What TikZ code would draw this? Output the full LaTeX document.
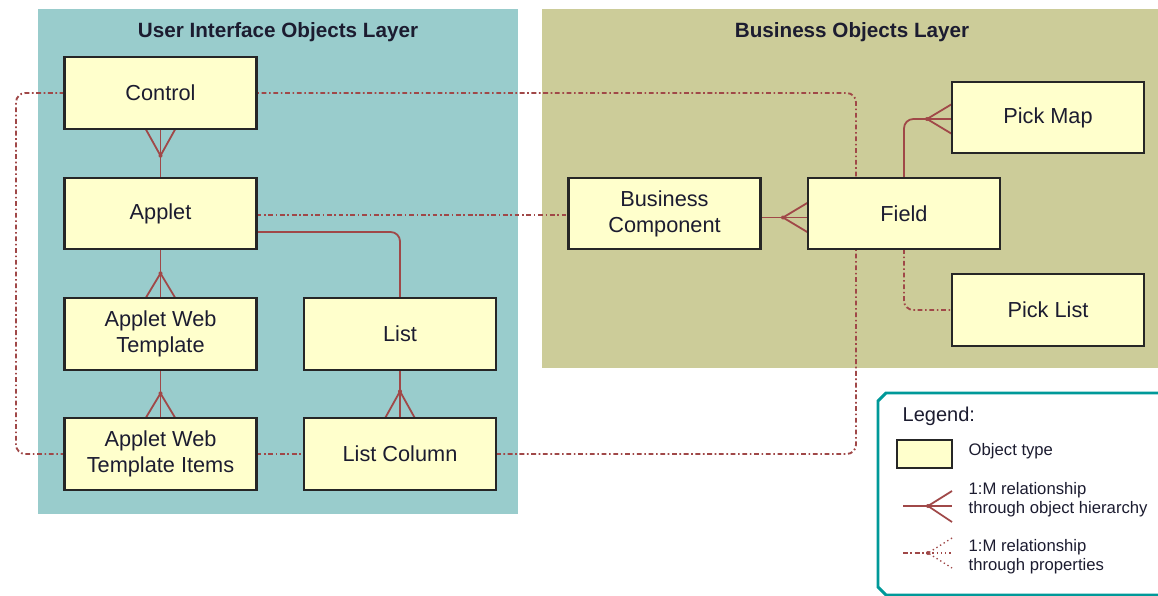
\documentclass[tikz,border=0pt]{standalone}
\usepackage{fontspec}
\setmainfont{Liberation Sans}
\usetikzlibrary{calc}
\pgfdeclarelayer{bg}
\pgfdeclarelayer{lines}
\pgfsetlayers{bg,lines,main}
\definecolor{uibg}{HTML}{99CCCC}
\definecolor{bobg}{HTML}{CCCC99}
\definecolor{boxfill}{HTML}{FFFFCC}
\definecolor{relc}{HTML}{A04848}
\definecolor{legframe}{HTML}{009999}
\definecolor{txt}{HTML}{1C1C30}
\tikzset{
 obj/.style={draw=black!85, line width=1.6pt, fill=boxfill, minimum width=144pt, minimum height=53.5pt, inner sep=0pt, outer sep=0pt, align=center, font=\fontsize{16.3}{19.5}\selectfont, text=txt},
 hier/.style={draw=relc, line width=1.35pt},
 prop/.style={draw=relc, line width=1.4pt, dash pattern=on 3.6pt off 2pt on 1.2pt off 2pt},
 dotp/.style={draw=relc, line width=1pt, dash pattern=on 1pt off 2.2pt},
 layertitle/.style={font=\bfseries\fontsize{15.5}{18}\selectfont, text=txt},
 legtext/.style={anchor=west, align=left, font=\fontsize{12.5}{14.3}\selectfont, text=txt},
 knot/.style={fill=relc, circle, inner sep=0pt, minimum size=3pt},
}
\begin{document}
\begin{tikzpicture}[x=0.75pt,y=-0.75pt]
\useasboundingbox (0,0) rectangle (1158,596);
\clip (0,0) rectangle (1158,596);
\begin{pgfonlayer}{bg}
\fill[white] (0,0) rectangle (1158,596);
\fill[uibg] (38,9) rectangle (518,514);
\fill[bobg] (542,9) rectangle (1160,368);
\end{pgfonlayer}
\node[layertitle] (uititle) at (278,32) {User Interface Objects Layer};
\node[layertitle] (botitle) at (852,32) {Business Objects Layer};

% objects
\node[obj] (ctrl) at (160.5,93) {Control};
\node[obj] (app) at (160.5,213.5) {Applet};
\node[obj] (awt) at (160.5,334) {Applet Web\\Template};
\node[obj] (awti) at (160.5,454) {Applet Web\\Template Items};
\node[obj] (list) at (400,334) {List};
\node[obj] (lc) at (400,454) {List Column};
\node[obj] (bc) at (664.5,213.5) {Business\\Component};
\node[obj] (field) at (904,213.5) {Field};
\node[obj] (pm) at (1048,117.5) {Pick Map};
\node[obj] (pl) at (1048,310) {Pick List};

\coordinate (lcorner1) at (16,93);
\coordinate (lcorner2) at (16,454);
\coordinate (rcorner1) at (856,454);
\coordinate (rcorner2) at (856,93);

\begin{pgfonlayer}{lines}
% hierarchy relations
\draw[hier] (ctrl.south) -- (app.north);
\draw[hier] ($(ctrl.south)+(-15,0)$) -- ($(ctrl.south)+(0,27)$) -- ($(ctrl.south)+(15,0)$);
\node[knot] at ($(ctrl.south)+(0,27)$) {};

\draw[hier] (app.south) -- (awt.north);
\draw[hier] ($(awt.north)+(-15,0)$) -- ($(awt.north)+(0,-25)$) -- ($(awt.north)+(15,0)$);
\node[knot] at ($(awt.north)+(0,-25)$) {};

\draw[hier] (awt.south) -- (awti.north);
\draw[hier] ($(awti.north)+(-15,0)$) -- ($(awti.north)+(0,-25)$) -- ($(awti.north)+(15,0)$);
\node[knot] at ($(awti.north)+(0,-25)$) {};

\draw[hier, rounded corners=7] ($(app.east)+(0,18.5)$) -| (list.north);

\draw[hier] (list.south) -- (lc.north);
\draw[hier] ($(lc.north)+(-15,0)$) -- ($(lc.north)+(0,-27)$) -- ($(lc.north)+(15,0)$);
\node[knot] at ($(lc.north)+(0,-27)$) {};

\draw[hier] ($(bc.east)+(0,4)$) -- ($(field.west)+(0,4)$);
\draw[hier] ($(field.west)+(0,-11)$) -- ($(field.west)+(-25,4)$) -- ($(field.west)+(0,19)$);
\node[knot] at ($(field.west)+(-25,4)$) {};

\draw[hier, rounded corners=7] (field.north) |- ($(pm.west)+(0,1.5)$);
\draw[hier] ($(pm.west)+(0,-13.5)$) -- ($(pm.west)+(-25,1.5)$) -- ($(pm.west)+(0,16.5)$);
\node[knot] at ($(pm.west)+(-25,1.5)$) {};

% property relations
\draw[prop] ($(app.east)+(0,1.5)$) -- ($(bc.west)+(0,1.5)$);
\draw[prop, rounded corners=7] (ctrl.west) -- (lcorner1) -- (lcorner2) -- (awti.west);
\draw[prop] (awti.east) -- (lc.west);
\draw[prop, rounded corners=7] (lc.east) -- (rcorner1) -- (rcorner2) -- (ctrl.east);
\draw[prop, rounded corners=7] (field.south) |- (pl.west);
\end{pgfonlayer}

% legend
\draw[legframe, line width=2.2pt] (1165,393) -- (886,393) -- (878,401) -- (878,587) -- (886,595) -- (1165,595);
\node[legtext, font=\fontsize{15}{18}\selectfont] (legtitle) at (898,416) {Legend:};
\node[obj, minimum width=41pt, minimum height=21pt] (legobj) at (924.5,454) {};
\node[legtext] (legt1) at (964,451) {Object type};
\node[legtext] (legt2) at (964,499.5) {1:M relationship\\through object hierarchy};
\node[legtext] (legt3) at (964,556.5) {1:M relationship\\through properties};

\coordinate (h0) at (903,506);
\coordinate (hk) at (928,506);
\coordinate (h1) at (952,506);
\coordinate (hu) at (952,491);
\coordinate (hd) at (952,522);
\draw[hier] (h0) -- (h1);
\draw[hier] (hu) -- (hk) -- (hd);
\node[knot] at (hk) {};

\coordinate (p0) at (903,553);
\coordinate (pk) at (928,553);
\coordinate (p1) at (952,553);
\coordinate (pu) at (952,538);
\coordinate (pd) at (952,568);
\draw[prop] (p0) -- (pk);
\draw[dotp] (pk) -- (p1);
\draw[dotp] (pu) -- (pk) -- (pd);
\node[knot] at (pk) {};
\end{tikzpicture}
\end{document}
